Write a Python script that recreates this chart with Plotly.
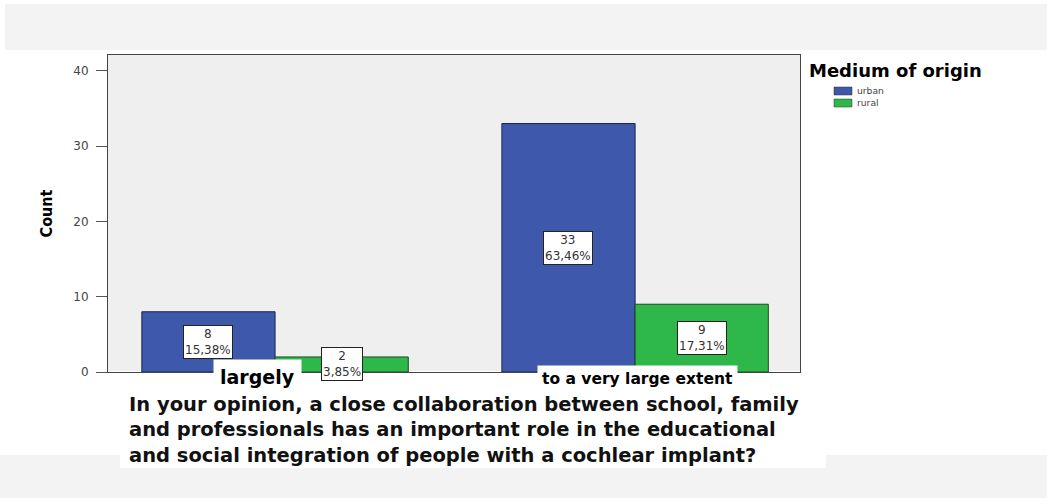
import plotly.graph_objects as go

categories = ["largely", "to a very large extent"]
series_names = ["urban", "rural"]
urban_counts = [8, 33]
rural_counts = [2, 9]
urban_pct = ["15,38%", "63,46%"]
rural_pct = ["3,85%", "17,31%"]
legend_title = "Medium of origin"
y_title = "Count"
y_ticks = [0, 10, 20, 30, 40]
question = ("In your opinion, a close collaboration between school, family<br>"
            "and professionals has an important role in the educational<br>"
            "and social integration of people with a cochlear implant?")

BLUE = "#3E58AC"
GREEN = "#2EB84A"
W, H = 1047, 498
ML, MR, MT, MB = 108, 247, 55, 126
PW, PH = W - ML - MR, H - MT - MB


def px(xp):
    return (xp - ML) / PW


def py(yp):
    return (H - MB - yp) / PH


fig = go.Figure()
fig.add_trace(go.Bar(x=categories, y=urban_counts, name=series_names[0], showlegend=False,
                     marker=dict(color=BLUE, line=dict(color="#1c2450", width=1))))
fig.add_trace(go.Bar(x=categories, y=rural_counts, name=series_names[1], showlegend=False,
                     marker=dict(color=GREEN, line=dict(color="#1c4a24", width=1))))

annotations = []
for i, c in enumerate(categories):
    for j, (vals, pcts) in enumerate([(urban_counts, urban_pct), (rural_counts, rural_pct)]):
        annotations.append(dict(
            x=i + (-0.185 if j == 0 else 0.185), y=vals[i] / 2, xref="x", yref="y",
            text=f"{vals[i]}<br>{pcts[i]}", showarrow=False,
            font=dict(family="DejaVu Sans", size=12, color="#333"),
            bgcolor="white", bordercolor="#222", borderwidth=1, borderpad=1,
        ))

# category labels overlaid
annotations.append(dict(x=px(257), y=py(377), xref="paper", yref="paper", text="<b>largely</b>",
                        showarrow=False, xanchor="center", yanchor="middle",
                        font=dict(family="DejaVu Sans", size=19, color="black"),
                        bgcolor="white", borderpad=6))
annotations.append(dict(x=px(637), y=py(379), xref="paper", yref="paper",
                        text="<b>to a very large extent</b>",
                        showarrow=False, xanchor="center", yanchor="middle",
                        font=dict(family="DejaVu Sans", size=15.5, color="black"),
                        bgcolor="white", borderpad=4))
annotations.append(dict(x=px(128), y=py(392), xref="paper", yref="paper", text=f"<b>{question}</b>",
                        showarrow=False, xanchor="left", yanchor="top", align="left",
                        font=dict(family="DejaVu Sans", size=19.5, color="#111"),
                        borderpad=0))

# legend drawn manually
annotations.append(dict(x=px(807), y=py(70), xref="paper", yref="paper",
                        text=f"<b>{legend_title}</b>", showarrow=False,
                        xanchor="left", yanchor="middle",
                        font=dict(family="DejaVu Sans", size=18, color="black")))
legend_colors = [BLUE, GREEN]
legend_rows = [91, 103]
shapes = [
    dict(type="rect", xref="paper", yref="paper",
         x0=px(5), x1=px(W), y0=py(50), y1=py(4),
         fillcolor="#F3F3F3", line=dict(width=0), layer="below"),
    dict(type="rect", xref="paper", yref="paper",
         x0=px(0), x1=px(W), y0=py(H), y1=py(455),
         fillcolor="#F3F3F3", line=dict(width=0), layer="below"),
    dict(type="rect", xref="paper", yref="paper",
         x0=px(120), x1=px(826), y0=py(468), y1=py(393),
         fillcolor="white", line=dict(width=0), layer="below"),
]
for name, col, yr in zip(series_names, legend_colors, legend_rows):
    shapes.append(dict(type="rect", xref="paper", yref="paper",
                       x0=px(834), x1=px(852), y0=py(yr + 4), y1=py(yr - 4),
                       fillcolor=col, line=dict(color="#333", width=0.5)))
    annotations.append(dict(x=px(856), y=py(yr), xref="paper", yref="paper",
                            text=name, showarrow=False, xanchor="left", yanchor="middle",
                            font=dict(family="DejaVu Sans", size=9.2, color="#444"),
                            borderpad=0))

fig.update_layout(
    width=W, height=H,
    margin=dict(l=ML, r=MR, t=MT, b=MB),
    paper_bgcolor="white",
    plot_bgcolor="#EFEFEF",
    bargap=0.26, bargroupgap=0,
    barmode="group",
    showlegend=False,
    xaxis=dict(range=[-0.464, 1.458], showticklabels=False, ticks="",
               showline=True, linecolor="#444", linewidth=1, mirror=True, showgrid=False),
    yaxis=dict(range=[0, 42.1], tickvals=y_ticks, ticks="outside", ticklen=11,
               tickcolor="#555", ticklabelstandoff=5,
               tickfont=dict(family="DejaVu Sans", size=12, color="#444"),
               showline=True, linecolor="#444", linewidth=1, mirror=True, showgrid=False,
               title=dict(text=f"<b>{y_title}</b>",
                          font=dict(family="DejaVu Sans Condensed", size=16, color="black"),
                          standoff=16)),
    shapes=shapes,
    annotations=annotations,
)

fig.write_html("out.html")
